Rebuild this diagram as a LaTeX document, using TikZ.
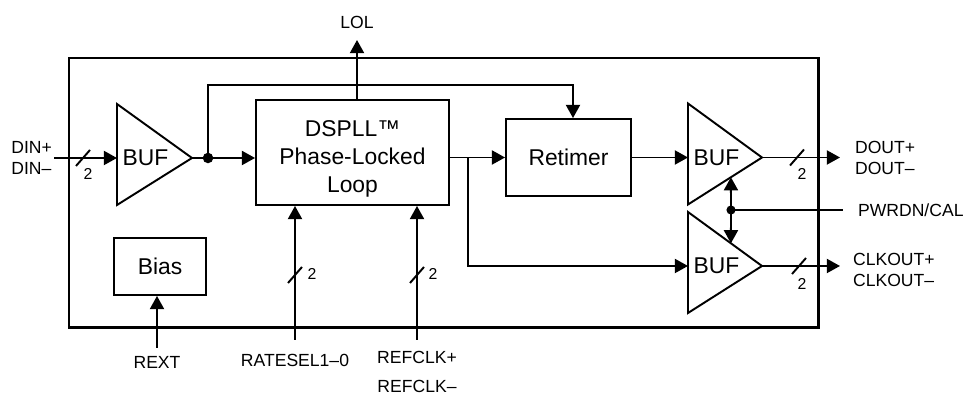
\documentclass[tikz,border=0pt]{standalone}
\usepackage{fontspec}
\setmainfont{Liberation Sans}
\usetikzlibrary{arrows.meta, calc, positioning}

\begin{document}
\begin{tikzpicture}[x=0.02cm, y=-0.02cm, >={Triangle[length=7.5pt,width=8pt]},
  wire/.style={line width=1.1pt},
  blk/.style={draw, line width=1.1pt, inner sep=0pt, align=center, font=\fontsize{13}{16}\selectfont},
  lbl/.style={inner sep=1pt, font=\fontsize{10}{12}\selectfont},
  num/.style={inner sep=0pt, font=\fontsize{9}{10}\selectfont}]
\useasboundingbox (0,0) rectangle (967,394);

% chip outline
\draw[line width=1.7pt] (69,58) rectangle (818,327.5);

% blocks
\node[blk, minimum width=3.86cm, minimum height=2.1cm] (pll) at (352.5,152.5) {};
\node[align=center, font=\fontsize{13}{16}\selectfont] (plltxt) at (352.5,159) {DSPLL™\\Phase-Locked\\Loop};
\node[blk, minimum width=2.5cm, minimum height=1.54cm] (ret) at (568.5,157.5) {Retimer};
\node[blk, minimum width=1.84cm, minimum height=1.14cm] (bias) at (160,266.5) {Bias};

% buffers
\foreach \n/\x/\y/\w in {bufa/117/158/75, bufb/688/157.5/74, bufc/688/266/74} {
  \coordinate (\n-in) at (\x,\y);
  \coordinate (\n-top) at (\x,\y-54);
  \coordinate (\n-bot) at (\x,\y+47);
  \coordinate (\n-out) at (\x+\w,\y);
  \draw[wire, line join=miter] (\n-top) -- (\n-out) -- (\n-bot) -- cycle;
  \node[anchor=west, inner sep=3pt, font=\fontsize{13}{16}\selectfont] (\n) at (\n-in) {BUF};
}

% input side
\coordinate (dinpin) at (54,158);
\node[lbl, anchor=east, align=left] (din) at (dinpin) {DIN+\\DIN–};
\draw[wire, ->] (dinpin) -- (bufa-in);

\coordinate (tap) at (208,158);
\coordinate (loop) at (573,85);
\draw[wire, ->] (bufa-out) -- (bufa-out -| pll.west);
\draw[wire, ->] (tap) |- (loop) -- (loop |- ret.north);
\fill (tap) circle (3pt);

\coordinate (lolpin) at (357,40);
\node[lbl] (lol) at (357,22) {LOL};
\draw[wire, ->] (pll.north -| lolpin) -- (lolpin);

% retimer and outputs
\coordinate (split) at (468,157.5);
\draw[wire, ->] (ret.west -| pll.east) -- (ret.west);
\draw[wire, ->] (split) |- (bufc-in);
\draw[wire, ->] (ret.east) -- (bufb-in);

\coordinate (doutpin) at (840,157.5);
\coordinate (clkpin) at (840,266);
\draw[wire, ->] (bufb-out) -- (doutpin);
\draw[wire, ->] (bufc-out) -- (clkpin);
\node[lbl, anchor=west, align=left] (dout) at (853,157.5) {DOUT+\\DOUT–};
\node[lbl, anchor=west, align=left] (clkout) at (851,270) {CLKOUT+\\CLKOUT–};

\coordinate (pwr) at (731,210);
\coordinate (pwrpin) at (843,210);
\draw[wire] (pwr) -- (pwrpin);
\node[lbl, anchor=west] (pwrdn) at (856,210) {PWRDN/CAL};
\draw[wire, ->] (pwr) -- ($(bufb-bot)!0.58!(bufb-out)$);
\draw[wire, ->] (pwr) -- ($(bufc-top)!0.58!(bufc-out)$);
\fill (pwr) circle (2.6pt);

% bottom pins
\coordinate (rextpin) at (157,348);
\node[lbl] (rext) at (157,362) {REXT};
\draw[wire, ->] (rextpin) -- (rextpin |- bias.south);

\coordinate (rselpin) at (295,340);
\node[lbl] (rsel) at (295,360) {RATESEL1–0};
\draw[wire, ->] (rselpin) -- (rselpin |- pll.south);

\coordinate (rclkpin) at (417,340);
\node[lbl, align=center, font=\fontsize{10}{16}\selectfont] (rclk) at (417,372) {REFCLK+\\REFCLK–};
\draw[wire, ->] (rclkpin) -- (rclkpin |- pll.south);

% bus widths
\foreach \x/\y/\lx/\ly [count=\i] in {83/158/88/174, 797/157.5/802/174, 799/266/802/284, 295/275/312/274, 417/275/433/274} {
  \draw[wire] (\x-7,\y+8) -- (\x+7,\y-8);
  \node[num] (bus\i) at (\lx,\ly) {2};
}
\end{tikzpicture}
\end{document}
